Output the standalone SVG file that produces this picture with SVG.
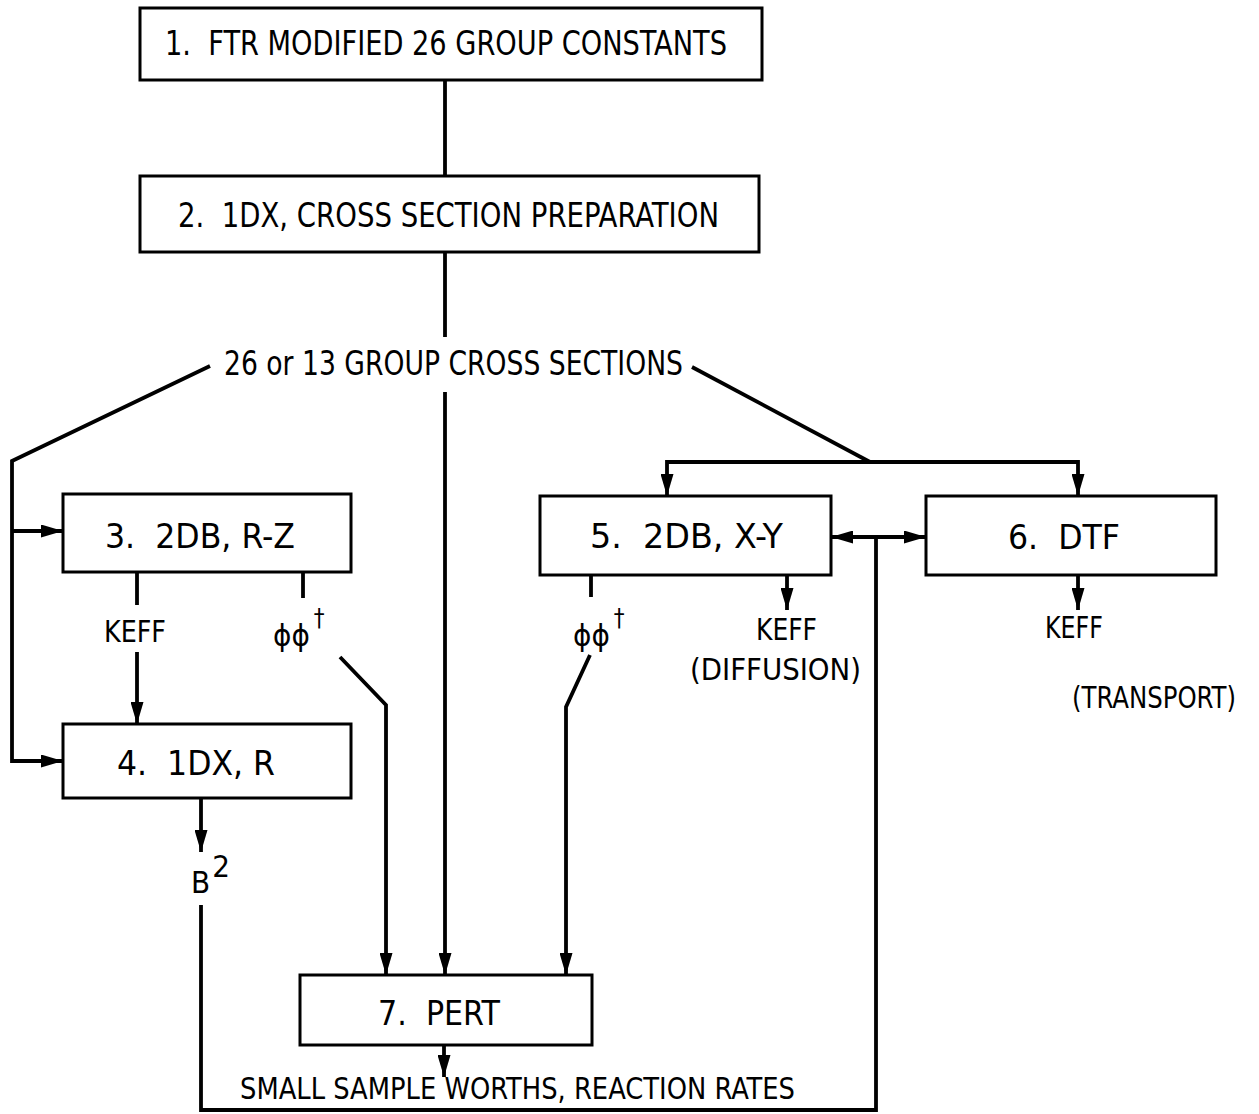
<svg xmlns="http://www.w3.org/2000/svg" width="1259" height="1114" viewBox="0 0 1259 1114">
<style>
.box{fill:#fff;stroke:#000;stroke-width:3}
.ln{fill:none;stroke:#000;stroke-width:3.8;stroke-linejoin:miter}
.t{font-family:"DejaVu Sans Condensed","Liberation Sans Narrow","DejaVu Sans",sans-serif;font-size:34px;fill:#000;white-space:pre}
.s{font-family:"DejaVu Sans Condensed","Liberation Sans Narrow","DejaVu Sans",sans-serif;font-size:31px;fill:#000;white-space:pre}
.sup{font-size:24px}
</style>
<defs>
<marker id="ah" viewBox="0 0 22 13" refX="22" refY="6.5" markerWidth="22" markerHeight="13" markerUnits="userSpaceOnUse" orient="auto">
<path d="M0,0 L22,6.5 L0,13 z" fill="#000"/>
</marker>
</defs>
<rect width="1259" height="1114" fill="#fff"/>
<g id="connectors">
<path class="ln" d="M445 80 V176"/>
<path class="ln" d="M445 252 V337"/>
<path class="ln" d="M445 392 V975" marker-end="url(#ah)"/>
<path class="ln" d="M210 366 L12 461 V761 H63" marker-end="url(#ah)"/>
<path class="ln" d="M12 531 H63" marker-end="url(#ah)"/>
<path class="ln" d="M692 367 L870 462"/>
<path class="ln" d="M870 462 H667 V496" marker-end="url(#ah)"/>
<path class="ln" d="M870 462 H1078 V496" marker-end="url(#ah)"/>
<path class="ln" d="M137 572 V605"/>
<path class="ln" d="M137 652 V724" marker-end="url(#ah)"/>
<path class="ln" d="M303 572 V598"/>
<path class="ln" d="M340 657 L386 705 V975" marker-end="url(#ah)"/>
<path class="ln" d="M591 575 V597"/>
<path class="ln" d="M590 655 L566 707 V975" marker-end="url(#ah)"/>
<path class="ln" d="M787 575 V610" marker-end="url(#ah)"/>
<path class="ln" d="M1078 575 V610" marker-end="url(#ah)"/>
<path class="ln" d="M201 798 V852" marker-end="url(#ah)"/>
<path class="ln" d="M201 905 V1110 H876 V537"/>
<path class="ln" d="M876 537 H831" marker-end="url(#ah)"/>
<path class="ln" d="M876 537 H926" marker-end="url(#ah)"/>
<path class="ln" d="M444 1045 V1077" marker-end="url(#ah)"/>
</g>
<g id="n1"><rect class="box" x="140" y="8" width="622" height="72"/><text class="t" x="165" y="55" textLength="562" lengthAdjust="spacingAndGlyphs">1.  FTR MODIFIED 26 GROUP CONSTANTS</text></g>
<g id="n2"><rect class="box" x="140" y="176" width="619" height="76"/><text class="t" x="178" y="227" textLength="541" lengthAdjust="spacingAndGlyphs">2.  1DX, CROSS SECTION PREPARATION</text></g>
<g id="lbl-xs"><text class="t" x="224" y="375" textLength="459" lengthAdjust="spacingAndGlyphs">26 or 13 GROUP CROSS SECTIONS</text></g>
<g id="n3"><rect class="box" x="63" y="494" width="288" height="78"/><text class="t" x="105" y="548" textLength="190" lengthAdjust="spacingAndGlyphs">3.  2DB, R-Z</text></g>
<g id="n4"><rect class="box" x="63" y="724" width="288" height="74"/><text class="t" x="117" y="775" textLength="158" lengthAdjust="spacingAndGlyphs">4.  1DX, R</text></g>
<g id="n5"><rect class="box" x="540" y="496" width="291" height="79"/><text class="t" x="590" y="548" textLength="193" lengthAdjust="spacingAndGlyphs">5.  2DB, X-Y</text></g>
<g id="n6"><rect class="box" x="926" y="496" width="290" height="79"/><text class="t" x="1008" y="549" textLength="112" lengthAdjust="spacingAndGlyphs">6.  DTF</text></g>
<g id="n7"><rect class="box" x="300" y="975" width="292" height="70"/><text class="t" x="378" y="1025" textLength="122" lengthAdjust="spacingAndGlyphs">7.  PERT</text></g>
<g id="labels">
<text class="s" x="104" y="642" textLength="62" lengthAdjust="spacingAndGlyphs">KEFF</text>
<text class="s" x="273" y="646">ϕϕ<tspan class="sup" dx="4" dy="-20">†</tspan></text>
<text class="s" x="573" y="646">ϕϕ<tspan class="sup" dx="4" dy="-20">†</tspan></text>
<text class="s" x="756" y="640" textLength="61" lengthAdjust="spacingAndGlyphs">KEFF</text>
<text class="s" x="690" y="680" textLength="171" lengthAdjust="spacingAndGlyphs">(DIFFUSION)</text>
<text class="s" x="1045" y="638" textLength="58" lengthAdjust="spacingAndGlyphs">KEFF</text>
<text class="s" x="1072" y="708" textLength="164" lengthAdjust="spacingAndGlyphs">(TRANSPORT)</text>
<text class="s" x="191" y="893" font-size="29">B<tspan dx="2" dy="-16">2</tspan></text>
<text class="s" x="240" y="1099" textLength="555" lengthAdjust="spacingAndGlyphs">SMALL SAMPLE WORTHS, REACTION RATES</text>
</g>
</svg>
